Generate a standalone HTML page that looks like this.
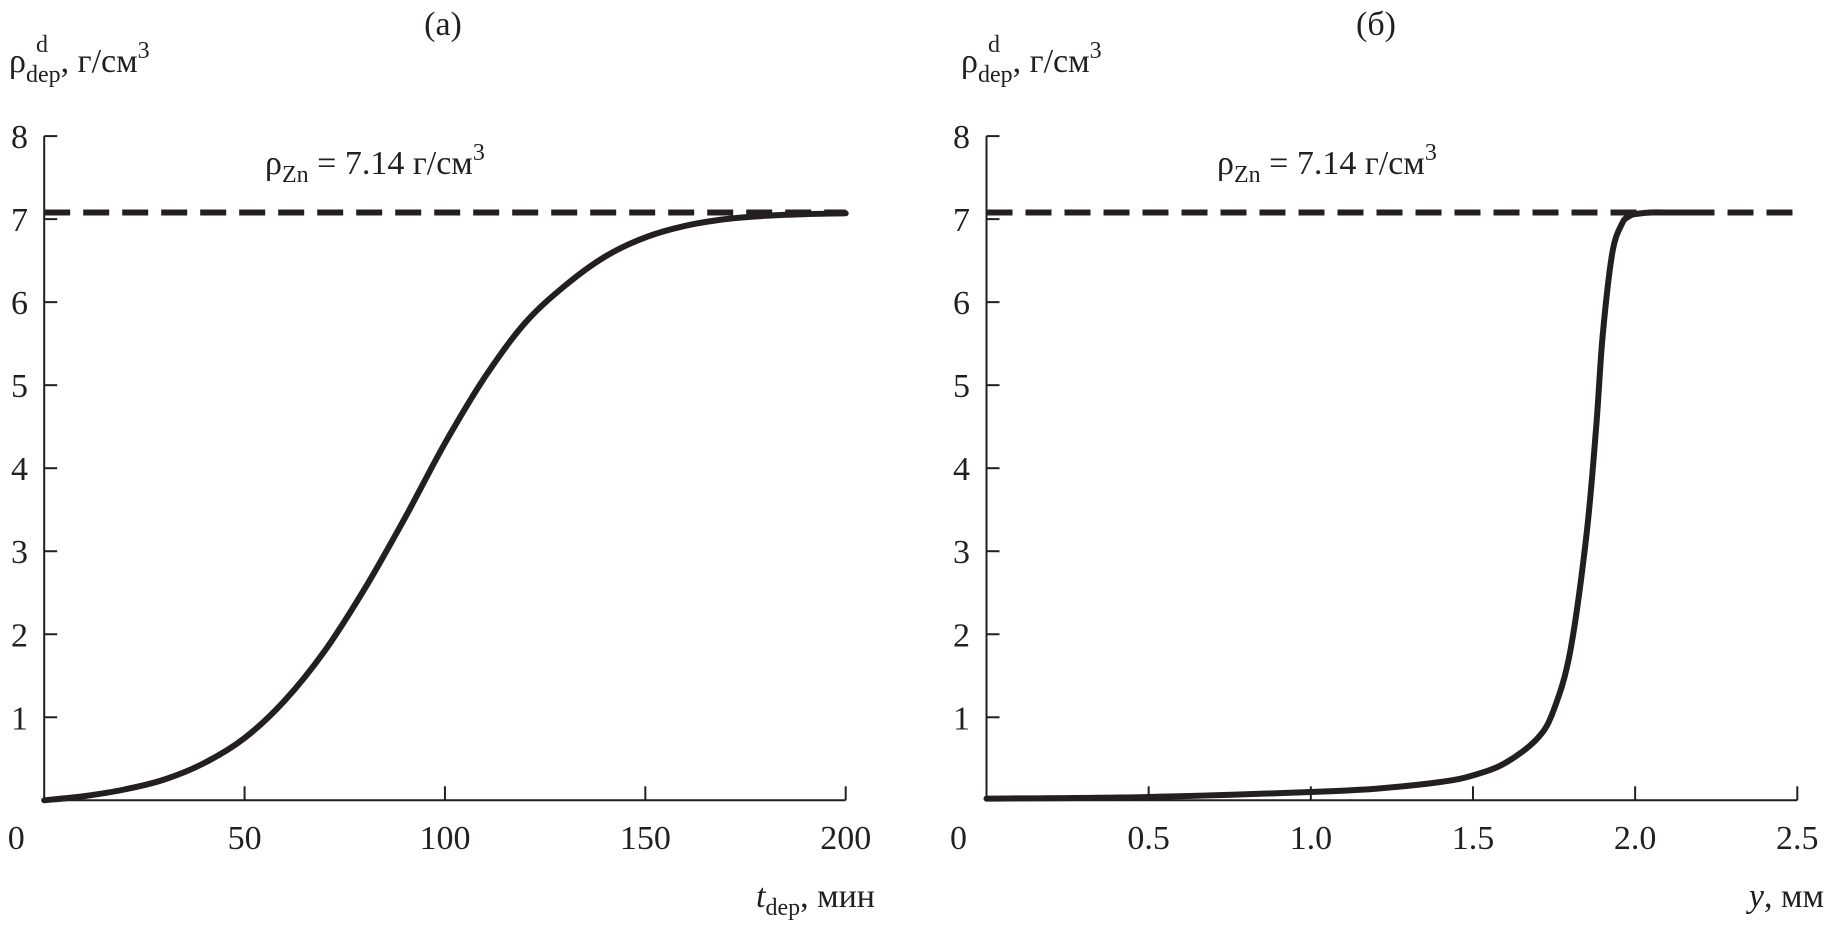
<!DOCTYPE html>
<html><head><meta charset="utf-8"><style>
html,body{margin:0;padding:0;background:#fff}
svg{display:block}
text{font-family:"Liberation Serif",serif;fill:#231f20}
</style></head><body>
<svg id="fig" width="1824" height="927" viewBox="0 0 1824 927" xmlns="http://www.w3.org/2000/svg">
<g>
<text x="443" y="35" font-size="34" text-anchor="middle">(a)</text>
<text x="9" y="72" font-size="34">ρ<tspan font-size="24" dy="10">dep</tspan><tspan dy="-10">, г/см</tspan><tspan font-size="24" dy="-14">3</tspan></text>
<text x="36" y="52" font-size="24">d</text>
<text x="265" y="174" font-size="34">ρ<tspan font-size="24" dy="8">Zn</tspan><tspan dy="-8"> = 7.14 г/см</tspan><tspan font-size="24" dy="-14">3</tspan></text>
<text x="875" y="907" font-size="34" text-anchor="end"><tspan font-style="italic">t</tspan><tspan font-size="24" dy="8">dep</tspan><tspan dy="-8">, мин</tspan></text>
</g>
<g>
<text x="1376" y="35" font-size="34" text-anchor="middle">(б)</text>
<text x="961" y="72" font-size="34">ρ<tspan font-size="24" dy="10">dep</tspan><tspan dy="-10">, г/см</tspan><tspan font-size="24" dy="-14">3</tspan></text>
<text x="988" y="52" font-size="24">d</text>
<text x="1217" y="174" font-size="34">ρ<tspan font-size="24" dy="8">Zn</tspan><tspan dy="-8"> = 7.14 г/см</tspan><tspan font-size="24" dy="-14">3</tspan></text>
<text x="1824" y="907" font-size="34" text-anchor="end"><tspan font-style="italic">y</tspan>, мм</text>
</g>
</svg>
<script>
// Panel (a) data
const tA = [0,10,20,30,40,50,60,70,80,90,100,110,120,130,140,150,160,170,180,190,200];
const rhoA = [0,0.05,0.13,0.25,0.45,0.75,1.2,1.8,2.55,3.4,4.3,5.1,5.75,6.2,6.55,6.78,6.92,7.0,7.04,7.06,7.07];
const xTicksA = [0,50,100,150,200];
// Panel (b) data
const yB = [0,0.5,1.0,1.2,1.4,1.5,1.6,1.7,1.75,1.8,1.85,1.88,1.9,1.93,1.96,1.98,2.0,2.05,2.1,2.22];
const rhoB = [0.02,0.04,0.1,0.14,0.22,0.3,0.45,0.75,1.1,1.8,3.2,4.5,5.6,6.6,6.95,7.03,7.06,7.08,7.08,7.08];
const xTicksB = [0,0.5,1.0,1.5,2.0,2.5];
const xTickLabelsB = ["0","0.5","1.0","1.5","2.0","2.5"];
const yTicks = [1,2,3,4,5,6,7,8];
const rhoZn = 7.08;

const NS="http://www.w3.org/2000/svg";
const svg=document.getElementById('fig');
function mk(tag,attrs,parent){const e=document.createElementNS(NS,tag);for(const k in attrs)e.setAttribute(k,attrs[k]);(parent||svg).appendChild(e);return e;}
function smooth(pts){
  let d='M'+pts[0][0].toFixed(1)+' '+pts[0][1].toFixed(1);
  for(let i=0;i<pts.length-1;i++){
    const p0=pts[Math.max(0,i-1)],p1=pts[i],p2=pts[i+1],p3=pts[Math.min(pts.length-1,i+2)];
    const c1=[p1[0]+(p2[0]-p0[0])/6,p1[1]+(p2[1]-p0[1])/6];
    const c2=[p2[0]-(p3[0]-p1[0])/6,p2[1]-(p3[1]-p1[1])/6];
    d+=` C${c1[0].toFixed(1)} ${c1[1].toFixed(1)} ${c2[0].toFixed(1)} ${c2[1].toFixed(1)} ${p2[0].toFixed(1)} ${p2[1].toFixed(1)}`;
  }
  return d;
}
function panel(id,x0,x1,xmax,xs,ys,xt,xtl,labelX){
  const y0=800.3, yTop=136.1;
  const sx=v=>x0+(x1-x0)*v/xmax;
  const sy=v=>y0-(y0-yTop)*v/8;
  const g=mk('g',{});
  
  
  const ax=mk('path',{d:`M${x0} ${yTop} V${y0} H${x1}`,fill:'none',stroke:'#231f20','stroke-width':2},g);
  
  
  yTicks.forEach(v=>{
    const t=mk('line',{x1:x0,x2:x0+13,y1:sy(v),y2:sy(v),stroke:'#231f20','stroke-width':2},g);
    
    
    const l=mk('text',{x:labelX,y:sy(v)+12,'font-size':34,'text-anchor':'end'},g);
    l.textContent=v;
    
    
  });
  xt.forEach((v,i)=>{
    if(v>0){const t=mk('line',{x1:sx(v),x2:sx(v),y1:y0,y2:y0-14,stroke:'#231f20','stroke-width':2},g);
    
    }
    const l=mk('text',{x:v===0?x0-28:sx(v),y:849,'font-size':34,'text-anchor':'middle'},g);
    l.textContent=xtl[i];
    
    
  });
  const d=mk('line',{x1:x0,x2:x1,y1:sy(rhoZn),y2:sy(rhoZn),stroke:'#231f20','stroke-width':6,'stroke-dasharray':'26 13'},g);
  
  
  const pts=xs.map((v,i)=>[sx(v),sy(ys[i])]);
  const p=mk('path',{d:smooth(pts),fill:'none',stroke:'#231f20','stroke-width':6,'stroke-linejoin':'round','stroke-linecap':'round'},g);
  
  
}
panel('a',44.2,845.7,200,tA,rhoA,xTicksA,xTicksA.map(String),28);
panel('b',986.5,1797.3,2.5,yB,rhoB,xTicksB,xTickLabelsB,970);
</script>
</body></html>
